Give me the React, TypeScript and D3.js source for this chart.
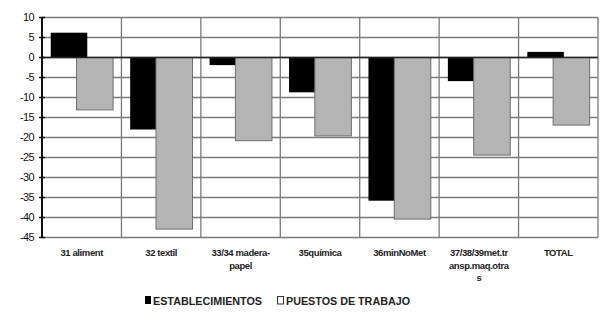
import * as React from "react";
import * as d3 from "d3";

// categories (label lines as they wrap in the picture)
const categories = ["31 aliment", "32 textil", "33/34 madera-papel", "35química", "36minNoMet", "37/38/39met.transp.maq.otras", "TOTAL"];
const categoryLines = [
  ["31 aliment"],
  ["32 textil"],
  ["33/34 madera-", "papel"],
  ["35química"],
  ["36minNoMet"],
  ["37/38/39met.tr", "ansp.maq.otra", "s"],
  ["TOTAL"],
];
const establecimientos = [6.2, -18, -1.9, -8.7, -35.8, -5.9, 1.4];
const puestos = [-13.1, -42.9, -20.8, -19.6, -40.4, -24.4, -16.9];
const yTicks = [10, 5, 0, -5, -10, -15, -20, -25, -30, -35, -40, -45];
const seriesNames = ["ESTABLECIMIENTOS", "PUESTOS DE TRABAJO"];

const W = 602;
const H = 321;
const left = 42;
const right = 598;
const top = 17.5;
const bottom = 237.5;
const font = "'Liberation Sans', Arial, sans-serif";

export default function App() {
  const x = d3.scaleBand<string>().domain(categories).range([left, right]).padding(0);
  const y = d3.scaleLinear().domain([-45, 10]).range([bottom, top]);
  const bw = x.bandwidth();
  const barW = bw * 0.46;
  const off1 = bw * 0.11;
  const off2 = bw * 0.435;

  return (
    <svg width={W} height={H} style={{ position: "absolute", left: 0, top: 0, background: "#fff" }} fontFamily={font}>
      <rect x={0} y={0} width={W} height={H} fill="#fff" />
      {/* horizontal grid */}
      {yTicks.map((t) => (
        <line key={t} x1={left} x2={right} y1={y(t)} y2={y(t)} stroke="#7a7a7a" strokeWidth={1.3} />
      ))}
      {/* vertical category dividers */}
      {categories.map((c) => (
        <line key={c} x1={x(c)! + bw} x2={x(c)! + bw} y1={top} y2={bottom} stroke="#7a7a7a" strokeWidth={1.3} />
      ))}
      {/* establecimientos bars */}
      {categories.map((c, i) => {
        const v = establecimientos[i];
        return (
          <rect key={"e" + c} x={x(c)! + off1} width={barW} y={y(Math.max(0, v))} height={Math.abs(y(v) - y(0))} fill="#000" />
        );
      })}
      {/* puestos bars */}
      {categories.map((c, i) => {
        const v = puestos[i];
        return (
          <rect key={"p" + c} x={x(c)! + off2} width={barW} y={y(Math.max(0, v))} height={Math.abs(y(v) - y(0))} fill="#b4b4b4" stroke="#6e6e6e" strokeWidth={1} />
        );
      })}
      {/* zero line */}
      <line x1={left} x2={right} y1={y(0)} y2={y(0)} stroke="#222" strokeWidth={1.5} />
      {/* y axis */}
      <line x1={left} x2={left} y1={top} y2={bottom} stroke="#111" strokeWidth={2} />
      {yTicks.map((t) => (
        <g key={"t" + t}>
          <line x1={left - 3} x2={left + 3} y1={y(t)} y2={y(t)} stroke="#111" strokeWidth={1.5} />
          <text x={left - 8} y={y(t)} dy="0.35em" textAnchor="end" fontSize={11} letterSpacing={-0.6} fill="#111">
            {t}
          </text>
        </g>
      ))}
      {/* category labels */}
      {categories.map((c, i) => (
        <text key={"l" + c} x={x(c)! + bw / 2} y={256} textAnchor="middle" fontSize={9.5} fontWeight="bold" letterSpacing={-0.4} fill="#222">
          {categoryLines[i].map((ln, j) => (
            <tspan key={j} x={x(c)! + bw / 2} dy={j === 0 ? 0 : 12.5}>
              {ln}
            </tspan>
          ))}
        </text>
      ))}
      {/* legend */}
      <rect x={145} y={296} width={6} height={8} fill="#000" />
      <text x={153} y={304.5} fontSize={11} fontWeight="bold" textLength={109} lengthAdjust="spacingAndGlyphs" fill="#222">{seriesNames[0]}</text>
      <rect x={277.5} y={296.5} width={6} height={7.5} fill="#fff" stroke="#333" strokeWidth={1} />
      <text x={286} y={304.5} fontSize={11} fontWeight="bold" textLength={124} lengthAdjust="spacingAndGlyphs" fill="#222">{seriesNames[1]}</text>
    </svg>
  );
}
